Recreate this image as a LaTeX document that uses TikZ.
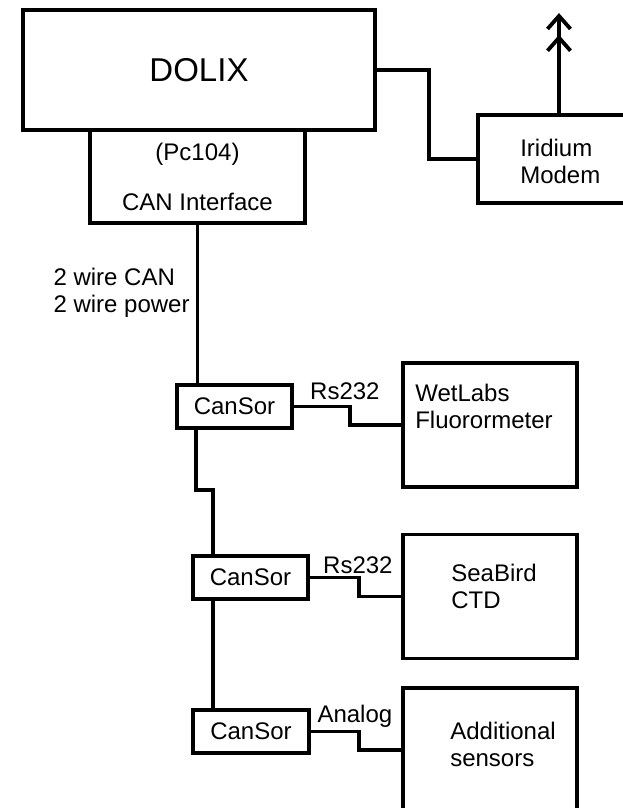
\documentclass[tikz,border=0pt]{standalone}
\usepackage{fontspec}
\setmainfont{Liberation Sans}
\usetikzlibrary{positioning,arrows.meta,calc}

\begin{document}
\begin{tikzpicture}[
    x=1pt, y=-1pt,
    >={Straight Barb[length=13pt,width=23pt,sep=4pt]},
    unit/.style={draw, line width=3.8pt, inner sep=0pt, align=center, font=\fontsize{24}{27}\selectfont},
    cansor/.style={unit, minimum width=115pt, minimum height=43pt},
    sensor/.style={unit, minimum width=174pt, minimum height=124pt},
    txt/.style={font=\fontsize{24}{27}\selectfont, align=left, inner sep=0pt, anchor=west},
    lbl/.style={font=\fontsize{24}{27}\selectfont, inner sep=2pt},
    wire/.style={line width=3.8pt},
]
\clip (0,0) rectangle (623,808);
% computer and modem
\node[unit, minimum width=215pt, minimum height=93pt] (canif) at (197.5,176.5) {(Pc104)\\[23pt]CAN Interface};
\node[unit, minimum width=352pt, minimum height=120pt, font=\fontsize{33}{38}\selectfont] (dolix) at (199,70) {DOLIX};
\node[unit, minimum width=162pt, minimum height=88pt] (iridium) at (559,159) {};
\node[txt] (iridium-txt) at ($(iridium.west)+(44,2.5)$) {Iridium\\Modem};
% CanSor nodes on the bus
\node[cansor] (cs1) at (234.5,406.5) {CanSor};
\node[cansor] (cs2) at (250.5,577.5) {CanSor};
\node[cansor, minimum width=116pt] (cs3) at (251,731.5) {CanSor};
% sensors
\node[sensor] (wet) at (490,425) {};
\node[txt] (wet-txt) at ($(wet.west)+(14,-19)$) {WetLabs\\Fluorormeter};
\node[sensor] (sea) at (490,596.5) {};
\node[txt] (sea-txt) at ($(sea.west)+(50,-10)$) {SeaBird\\CTD};
\node[sensor] (addl) at (490,750) {};
\node[txt] (addl-txt) at ($(addl.west)+(49,-6)$) {Additional\\sensors};
% links
\draw[wire] (dolix.east) -- ++(52,0) |- (iridium.west);
\draw[wire, ->>] (iridium.north) -- ++(0,-104);
\draw[wire] (canif.south) -- node[lbl, left, align=left, pos=0.43, xshift=-4pt] {2 wire CAN\\2 wire power} (canif.south |- cs1.north);
\draw[wire] ($(cs1.south west)+(21,0)$) -- ++(0,60) -| ($(cs2.north west)+(22,0)$);
\draw[wire] ($(cs2.south west)+(22,0)$) -- ($(cs3.north west)+(22,0)$);
\draw[wire] (cs1.east) -- ++(56,0) node[lbl, above, xshift=-5pt, yshift=3pt] {Rs232} |- (wet.west);
\draw[wire] (cs2.east) -- ++(49,0) node[lbl, above, xshift=-1pt] {Rs232} |- (sea.west);
\draw[wire] (cs3.east) -- ++(48,0) node[lbl, above, xshift=-4pt] {Analog} |- (addl.west);
\end{tikzpicture}
\end{document}
